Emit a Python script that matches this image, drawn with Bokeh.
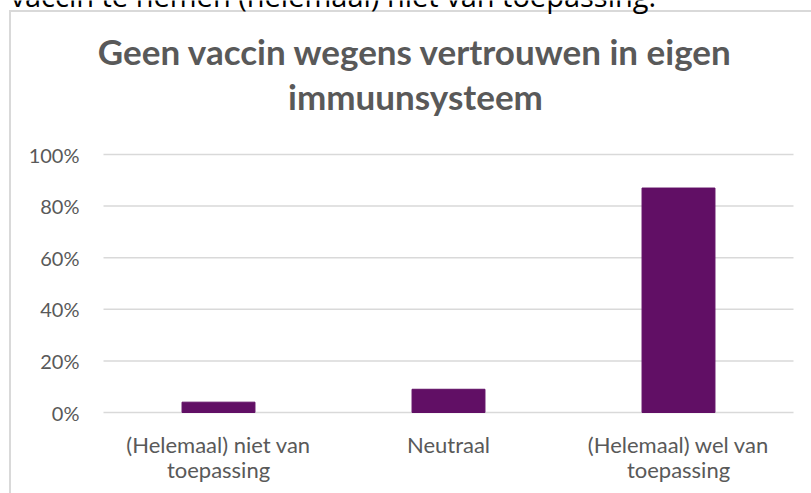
from bokeh.plotting import figure
from bokeh.models import Range1d, FixedTicker, Label, LabelSet, ColumnDataSource
from bokeh.core.properties import value
from bokeh.embed import file_html
from bokeh.resources import INLINE

categories = ["(Helemaal) niet van\ntoepassing", "Neutraal", "(Helemaal) wel van\ntoepassing"]
values = [0.04, 0.09, 0.87]
y_ticks = [0, 0.2, 0.4, 0.6, 0.8, 1.0]
y_tick_labels = ["0%", "20%", "40%", "60%", "80%", "100%"]
title_lines = ["Geen vaccin wegens vertrouwen in eigen", "immuunsysteem"]
top_text = "vaccin te nemen (helemaal) niet van toepassing."

GREY = "#595959"
LINE = "#d9d9d9"
BAR = "#610f65"

W, H = 811, 493
# pixel geometry of the chart area (categories span CL..CR, 0%..100% span CB..CT)
CL, CR, CT, CB = 103, 793, 154, 412
FRAME_BOTTOM = 430
n = len(categories)
xs = list(range(n))
ux = (CR - CL) / n          # pixels per category
uy = (CB - CT) / 1.0        # pixels per 100%

def px_x(px):
    return (px - CL) / ux - 0.5

def px_y(py):
    return (CB - py) / uy

p = figure(width=W, height=H,
           x_range=Range1d(px_x(0), px_x(W)),
           y_range=Range1d(px_y(FRAME_BOTTOM), px_y(0)),
           y_axis_location=None,
           output_backend="svg", toolbar_location=None,
           min_border_left=0, min_border_right=0,
           min_border_top=0, min_border_bottom=H - FRAME_BOTTOM)
p.outline_line_color = None
p.background_fill_color = None
p.border_fill_color = None
p.grid.visible = False
grad = "linear-gradient(#d9d9d9,#d9d9d9)"
p.styles = {
    "background": f"{grad} 9px 10px / 2px 100% no-repeat, "
                  f"{grad} 9px 10px / 100% 2px no-repeat, white",
}

# horizontal gridlines over the category span
p.segment(x0=[-0.5] * len(y_ticks), x1=[n - 0.5] * len(y_ticks),
          y0=y_ticks, y1=y_ticks, line_color=LINE, line_width=1.5)

p.vbar(x=xs, top=values, width=0.317, color=BAR)

# y tick labels
ysrc = ColumnDataSource(dict(x=[-0.5] * len(y_ticks), y=y_ticks, t=y_tick_labels))
p.add_layout(LabelSet(x="x", y="y", text="t", source=ysrc, x_offset=-24,
                      text_align="right", text_baseline="middle",
                      text_font=value("Lato"), text_font_size=value("20px"),
                      text_color=GREY))

# category axis
p.xaxis.ticker = FixedTicker(ticks=xs)
p.xaxis.major_label_overrides = {i: c for i, c in zip(xs, categories)}
p.xaxis.axis_line_color = None
p.xaxis.major_tick_line_color = None
p.xaxis.minor_tick_line_color = None
p.xaxis.major_tick_out = 0
p.xaxis.major_tick_in = 0
p.xaxis.minor_tick_out = 0
p.xaxis.minor_tick_in = 0
p.xaxis.major_label_standoff = 0
p.xaxis.major_label_text_font = "Lato"
p.xaxis.major_label_text_font_size = "22px"
p.xaxis.major_label_text_line_height = 0.95
p.xaxis.major_label_text_color = GREY

# chart title (two centred lines)
for txt, base in zip(title_lines, [50, 95]):
    p.add_layout(Label(x=px_x(415), y=px_y(base), text=txt,
                       text_align="center", text_baseline="alphabetic",
                       text_font="Lato", text_font_style="bold",
                       text_font_size="35px", text_color=GREY))

# cropped caption line above the chart
p.add_layout(Label(x=px_x(10), y=px_y(-5), text=top_text,
                   text_align="left", text_baseline="alphabetic",
                   text_font="Open Sans", text_font_size="29px", text_color="black"))

open("out.html", "w").write(file_html(p, INLINE))
